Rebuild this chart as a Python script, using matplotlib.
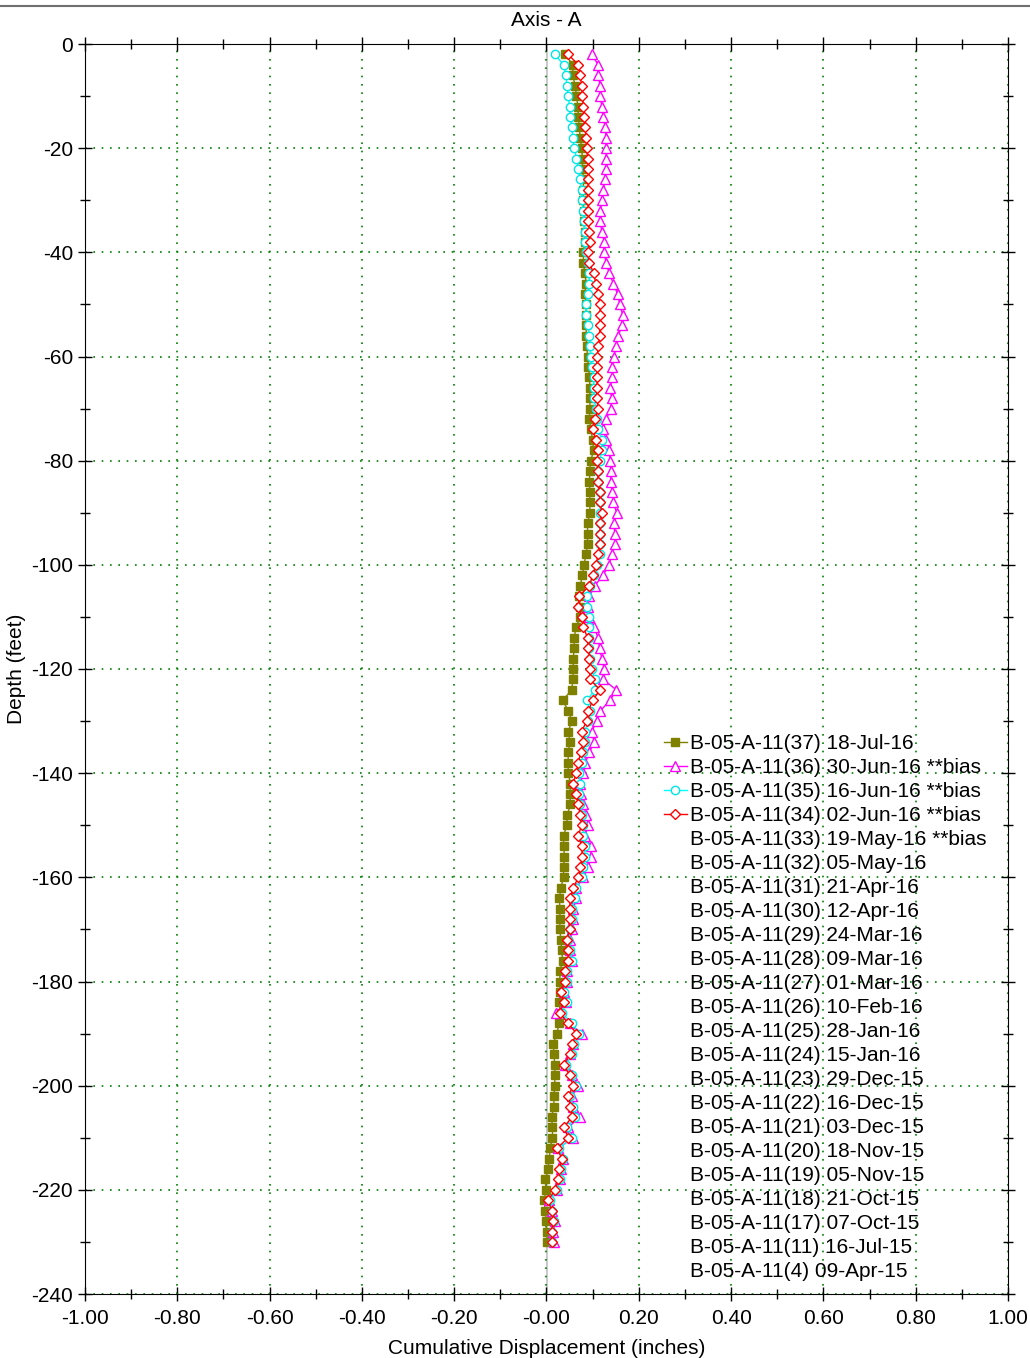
import numpy as np
import matplotlib
matplotlib.use("Agg")
import matplotlib.pyplot as plt
from matplotlib.lines import Line2D

plt.rcParams['font.family'] = ['Liberation Sans', 'DejaVu Sans']
plt.rcParams['axes.unicode_minus'] = False

# profundidad (ft), lecturas cada 2 pies
depth = np.arange(-2, -232, -2)

# B-05-A-11(37) 18-Jul-16
disp37 = [0.040, 0.057, 0.057, 0.062, 0.065, 0.068, 0.069, 0.071, 0.073, 0.076,
          0.078, 0.078, 0.080, 0.080, 0.080, 0.081, 0.081, 0.083, 0.083, 0.080,
          0.080, 0.083, 0.086, 0.083, 0.086, 0.086, 0.086, 0.086, 0.087, 0.089,
          0.091, 0.093, 0.094, 0.094, 0.094, 0.093, 0.096, 0.100, 0.102, 0.096,
          0.094, 0.093, 0.094, 0.094, 0.094, 0.089, 0.089, 0.089, 0.086, 0.081,
          0.078, 0.073, 0.071, 0.073, 0.073, 0.064, 0.060, 0.060, 0.058, 0.058,
          0.057, 0.055, 0.035, 0.047, 0.055, 0.047, 0.051, 0.047, 0.047, 0.047,
          0.052, 0.051, 0.052, 0.045, 0.044, 0.037, 0.037, 0.039, 0.037, 0.037,
          0.031, 0.028, 0.029, 0.029, 0.029, 0.031, 0.033, 0.035, 0.029, 0.029,
          0.029, 0.028, 0.029, 0.028, 0.022, 0.015, 0.016, 0.018, 0.018, 0.018,
          0.016, 0.016, 0.011, 0.013, 0.013, 0.008, 0.006, 0.004, -0.003, -0.001,
          -0.005, -0.003, -0.001, 0.000, 0.002]

# B-05-A-11(36) 30-Jun-16
disp36 = [0.098, 0.112, 0.112, 0.116, 0.116, 0.120, 0.123, 0.127, 0.129, 0.129,
          0.129, 0.129, 0.127, 0.123, 0.120, 0.117, 0.116, 0.120, 0.125, 0.125,
          0.129, 0.136, 0.145, 0.154, 0.159, 0.165, 0.163, 0.156, 0.151, 0.146,
          0.141, 0.143, 0.138, 0.141, 0.139, 0.130, 0.122, 0.130, 0.136, 0.138,
          0.139, 0.139, 0.143, 0.145, 0.152, 0.146, 0.148, 0.148, 0.141, 0.136,
          0.122, 0.105, 0.093, 0.089, 0.093, 0.103, 0.112, 0.115, 0.120, 0.125,
          0.123, 0.151, 0.138, 0.117, 0.109, 0.098, 0.103, 0.093, 0.084, 0.080,
          0.073, 0.074, 0.080, 0.086, 0.091, 0.083, 0.096, 0.096, 0.091, 0.080,
          0.065, 0.065, 0.058, 0.058, 0.055, 0.052, 0.051, 0.055, 0.044, 0.044,
          0.037, 0.042, 0.021, 0.051, 0.076, 0.058, 0.052, 0.040, 0.055, 0.069,
          0.055, 0.058, 0.073, 0.047, 0.058, 0.026, 0.036, 0.031, 0.029, 0.022,
          0.006, 0.013, 0.018, 0.015, 0.016]

# B-05-A-11(35) 16-Jun-16
disp35 = [0.018, 0.037, 0.042, 0.044, 0.047, 0.050, 0.051, 0.055, 0.057, 0.060,
          0.065, 0.069, 0.073, 0.076, 0.076, 0.080, 0.081, 0.083, 0.083, 0.086,
          0.091, 0.093, 0.093, 0.089, 0.086, 0.086, 0.089, 0.093, 0.094, 0.096,
          0.098, 0.102, 0.102, 0.103, 0.107, 0.109, 0.112, 0.120, 0.120, 0.115,
          0.112, 0.112, 0.116, 0.116, 0.117, 0.117, 0.117, 0.116, 0.115, 0.109,
          0.102, 0.094, 0.087, 0.087, 0.093, 0.093, 0.093, 0.093, 0.094, 0.098,
          0.105, 0.105, 0.088, 0.094, 0.091, 0.083, 0.083, 0.080, 0.076, 0.071,
          0.073, 0.071, 0.073, 0.078, 0.080, 0.080, 0.083, 0.083, 0.080, 0.076,
          0.065, 0.062, 0.055, 0.055, 0.052, 0.047, 0.051, 0.055, 0.044, 0.044,
          0.037, 0.044, 0.033, 0.055, 0.071, 0.060, 0.055, 0.042, 0.055, 0.065,
          0.052, 0.057, 0.062, 0.045, 0.055, 0.028, 0.036, 0.031, 0.029, 0.022,
          0.008, 0.013, 0.016, 0.013, 0.013]

# B-05-A-11(34) 02-Jun-16
disp34 = [0.047, 0.069, 0.073, 0.076, 0.078, 0.080, 0.081, 0.083, 0.086, 0.087,
          0.089, 0.091, 0.091, 0.089, 0.089, 0.091, 0.091, 0.093, 0.094, 0.089,
          0.093, 0.102, 0.107, 0.112, 0.116, 0.116, 0.116, 0.115, 0.112, 0.110,
          0.109, 0.110, 0.109, 0.110, 0.112, 0.105, 0.100, 0.107, 0.112, 0.110,
          0.112, 0.111, 0.115, 0.116, 0.120, 0.116, 0.116, 0.115, 0.112, 0.107,
          0.100, 0.093, 0.071, 0.069, 0.076, 0.080, 0.089, 0.091, 0.093, 0.094,
          0.094, 0.116, 0.100, 0.091, 0.087, 0.076, 0.080, 0.074, 0.069, 0.064,
          0.058, 0.065, 0.069, 0.073, 0.076, 0.069, 0.076, 0.078, 0.073, 0.069,
          0.058, 0.052, 0.050, 0.050, 0.050, 0.044, 0.047, 0.047, 0.040, 0.040,
          0.031, 0.037, 0.029, 0.047, 0.065, 0.055, 0.050, 0.037, 0.050, 0.058,
          0.047, 0.052, 0.055, 0.038, 0.047, 0.023, 0.033, 0.028, 0.026, 0.018,
          0.004, 0.011, 0.015, 0.011, 0.013]

labels = ['B-05-A-11(37) 18-Jul-16', 'B-05-A-11(36) 30-Jun-16 **bias',
          'B-05-A-11(35) 16-Jun-16 **bias', 'B-05-A-11(34) 02-Jun-16 **bias',
          'B-05-A-11(33) 19-May-16 **bias', 'B-05-A-11(32) 05-May-16',
          'B-05-A-11(31) 21-Apr-16', 'B-05-A-11(30) 12-Apr-16',
          'B-05-A-11(29) 24-Mar-16', 'B-05-A-11(28) 09-Mar-16',
          'B-05-A-11(27) 01-Mar-16', 'B-05-A-11(26) 10-Feb-16',
          'B-05-A-11(25) 28-Jan-16', 'B-05-A-11(24) 15-Jan-16',
          'B-05-A-11(23) 29-Dec-15', 'B-05-A-11(22) 16-Dec-15',
          'B-05-A-11(21) 03-Dec-15', 'B-05-A-11(20) 18-Nov-15',
          'B-05-A-11(19) 05-Nov-15', 'B-05-A-11(18) 21-Oct-15',
          'B-05-A-11(17) 07-Oct-15', 'B-05-A-11(11) 16-Jul-15',
          'B-05-A-11(4) 09-Apr-15']

fig = plt.figure(figsize=(10.3, 13.58), dpi=100)
ax = fig.add_axes([85/1030, 1 - 1294/1358, 923/1030, 1250/1358])

ax.axvline(0, color='#c0c0c0', lw=1.2, zorder=1)

h37, = ax.plot(disp37, depth, color='#808000', lw=1, marker='s', ms=6,
               mfc='#808000', mec='#808000', zorder=3)
h36, = ax.plot(disp36, depth, color='#ff00ff', lw=1, marker='^', ms=7,
               mfc='white', mec='#ff00ff', mew=1, zorder=4)
h35, = ax.plot(disp35, depth, color='#00ffff', lw=1, marker='o', ms=6,
               mfc='white', mec='#00e5e5', mew=1, zorder=5)
h34, = ax.plot(disp34, depth, color='#ff0000', lw=1, marker='D', ms=5,
               mfc='white', mec='#ff0000', mew=1, zorder=6)

ax.set_xlim(-1, 1)
ax.set_ylim(-240, 0)
ax.set_xticks(np.arange(-1, 1.01, 0.2))
ax.set_xticks(np.arange(-1, 1.01, 0.1), minor=True)
ax.set_yticks(np.arange(-240, 1, 20))
ax.set_yticks(np.arange(-240, 1, 10), minor=True)
ax.set_xticklabels(['%.2f' % v for v in np.arange(-1, 1.01, 0.2)])
ax.tick_params(which='both', direction='inout', top=True, right=True,
               labelsize=15, width=1)
ax.tick_params(which='major', length=10)
ax.tick_params(which='minor', length=7)
ax.tick_params(axis='x', which='major', pad=6)
ax.grid(True, which='major', color='#008000', linestyle=(0, (1, 4)), lw=1.2)

ax.set_title('Axis - A', fontsize=15, pad=13)
ax.set_xlabel('Cumulative Displacement (inches)', fontsize=15, labelpad=8)
ax.set_ylabel('Depth (feet)', fontsize=15, labelpad=4)

handles = [h37, h36, h35, h34]
for lab in labels[4:]:
    handles.append(Line2D([], [], linestyle='none', marker=None))
leg = ax.legend(handles, labels, loc='upper left', bbox_to_anchor=(0.627, 0.448),
                frameon=False, fontsize=15, labelspacing=0.24, handlelength=1.1,
                handletextpad=0.15, borderpad=0, borderaxespad=0)

# marco superior de la ventana
fig.add_artist(Line2D([0, 1], [1 - 6/1358, 1 - 6/1358], color='#707070', lw=1.5))

fig.savefig('out.png', dpi=100)
